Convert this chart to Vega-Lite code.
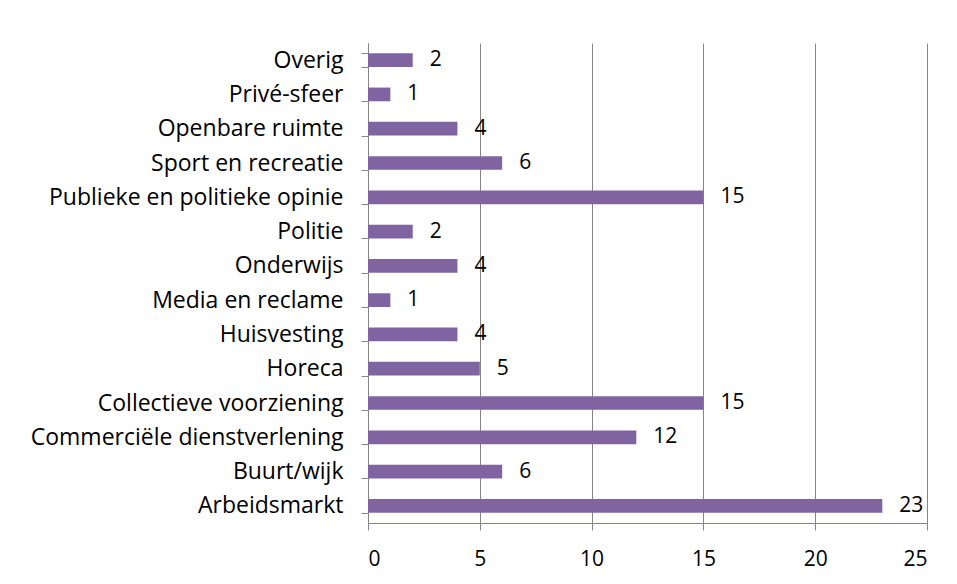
{
  "$schema": "https://vega.github.io/schema/vega-lite/v6.json",
  "width": 559,
  "height": 480,
  "autosize": "none",
  "padding": {"left": 368, "top": 43, "right": 30, "bottom": 61},
  "background": "white",
  "data": {"values": [
    {"category": "Overig", "value": 2},
    {"category": "Privé-sfeer", "value": 1},
    {"category": "Openbare ruimte", "value": 4},
    {"category": "Sport en recreatie", "value": 6},
    {"category": "Publieke en politieke opinie", "value": 15},
    {"category": "Politie", "value": 2},
    {"category": "Onderwijs", "value": 4},
    {"category": "Media en reclame", "value": 1},
    {"category": "Huisvesting", "value": 4},
    {"category": "Horeca", "value": 5},
    {"category": "Collectieve voorziening", "value": 15},
    {"category": "Commerciële dienstverlening", "value": 12},
    {"category": "Buurt/wijk", "value": 6},
    {"category": "Arbeidsmarkt", "value": 23}
  ]},
  "encoding": {
    "y": {"field": "category", "type": "nominal", "sort": null,
      "scale": {"paddingInner": 0.6, "paddingOuter": 0.3},
      "axis": {"title": null, "tickBand": "extent", "grid": false, "ticks": true, "tickSize": 7,
        "labelPadding": 18, "domainColor": "#868686", "tickColor": "#868686",
        "labelFont": "Open Sans", "labelFontSize": 23, "labelColor": "#000000", "labelLimit": 400}},
    "x": {"field": "value", "type": "quantitative",
      "scale": {"domain": [0, 25], "nice": false},
      "axis": {"title": null, "values": [0, 5, 10, 15, 20, 25], "grid": true, "gridColor": "#868686",
        "tickSize": 7, "labelPadding": 18, "domainColor": "#868686", "tickColor": "#868686",
        "labelFont": "Open Sans", "labelFontSize": 21, "labelColor": "#000000"}}
  },
  "layer": [
    {"mark": {"type": "bar", "color": "#8064A2"}},
    {"mark": {"type": "text", "align": "left", "baseline": "middle", "dx": 17, "font": "Open Sans", "fontSize": 21, "color": "#000000"},
      "encoding": {"text": {"field": "value", "type": "quantitative"}}}
  ],
  "config": {"view": {"stroke": null}}
}
